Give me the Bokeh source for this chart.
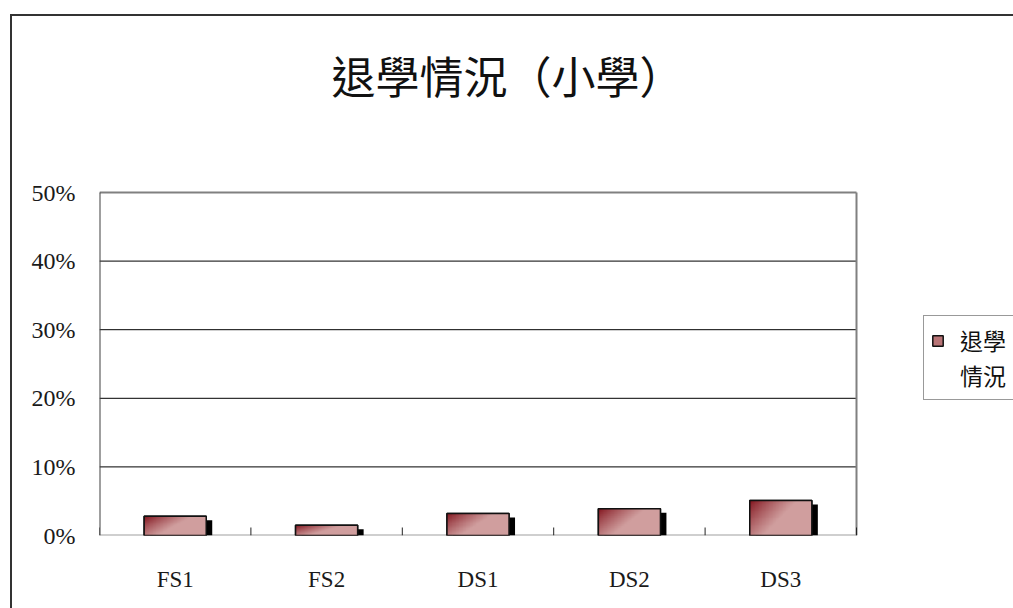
import numpy as np
from bokeh.plotting import figure
from bokeh.models import (FixedTicker, NumeralTickFormatter, Range1d, Legend, LegendItem, Label)
from bokeh.embed import file_html
from bokeh.resources import INLINE

# ---- data ----
categories = ["FS1", "FS2", "DS1", "DS2", "DS3"]
dropout_rate = [0.028, 0.015, 0.032, 0.039, 0.051]
y_ticks = [0.0, 0.1, 0.2, 0.3, 0.4, 0.5]
grid_values = [0.1, 0.2, 0.3, 0.4]
title_text = "退學情況（小學）"
legend_line1 = "退學"
legend_line2 = "情況"

W, H = 1013, 608
FL, FR, FT, FB = 99, 856, 192, 535   # plot-area edges in page pixels
YMAX = 0.5
NC = len(categories)

# the Bokeh frame spans from the plot-area's left/bottom to the canvas' right/top edge,
# so that the title and the legend (which live outside the plot area) are not clipped
x_end = NC * (W - FL) / (FR - FL)
y_end = YMAX * FB / (FB - FT)

p = figure(width=W, height=H, output_backend="svg", toolbar_location=None, title=None,
           x_range=Range1d(0, x_end), y_range=Range1d(0, y_end),
           min_border_left=FL, min_border_right=0, min_border_top=0, min_border_bottom=H - FB)
p.background_fill_color = None
p.border_fill_color = None
p.outline_line_color = None
# outer chart border (left and top edges visible, the rest lies outside the window)
p.styles = {
    "background-color": "white",
    "background-image": "linear-gradient(#333,#333), linear-gradient(#333,#333)",
    "background-position": "10px 14px, 10px 14px",
    "background-size": "2px 2000px, 2000px 2px",
    "background-repeat": "no-repeat",
}


def X(px):
    return (px - FL) / (FR - FL) * NC


def Y(py):
    return (FB - py) / (FB - FT) * YMAX


centers = [i + 0.5 for i in range(NC)]
bw = 0.41
px_x = NC / (FR - FL)
px_y = YMAX / (FB - FT)

# plot area: white fill, gridlines, border
p.quad(left=[0], right=[NC], bottom=[0], top=[YMAX], fill_color="white", line_color=None)
p.xgrid.grid_line_color = None
p.ygrid.grid_line_color = None
p.segment(x0=[0] * len(grid_values), x1=[NC] * len(grid_values), y0=grid_values, y1=grid_values,
          line_color="black", line_width=1)
p.segment(x0=[0, NC], x1=[NC, NC], y0=[YMAX, 0], y1=[YMAX, YMAX], line_color="#808080", line_width=2)
p.segment(x0=[0], x1=[NC], y0=[0], y1=[0], line_color="#a0a0a0", line_width=2)
p.segment(x0=[0], x1=[0], y0=[0], y1=[YMAX], line_color="#404040", line_width=2)

# shadows
p.vbar(x=[c + 6 * px_x for c in centers], top=[v - 4 * px_y for v in dropout_rate], bottom=0,
       width=bw, fill_color="black", line_color=None)

# bars: solid base (used by the legend), gradient image, outline
bars = p.vbar(x=centers, top=dropout_rate, bottom=0, width=bw,
              fill_color="#b87476", line_color="#111111", line_width=1.5)

nx, ny = 80, 40
u = np.linspace(0, 1, nx)[None, :]
wtop = np.linspace(1, 0, ny)[:, None]  # row 0 at bottom
t = np.clip((0.8 * u + 0.45 * wtop) / 0.62, 0, 1) ** 0.85
dark = np.array([128, 16, 26])
light = np.array([208, 158, 158])
rgb = dark[None, None, :] * (1 - t[..., None]) + light[None, None, :] * t[..., None]
img = np.empty((ny, nx), dtype=np.uint32)
view = img.view(dtype=np.uint8).reshape((ny, nx, 4))
view[..., 0] = rgb[..., 0].astype(np.uint8)
view[..., 1] = rgb[..., 1].astype(np.uint8)
view[..., 2] = rgb[..., 2].astype(np.uint8)
view[..., 3] = 255
p.image_rgba(image=[img] * NC, x=[c - bw / 2 for c in centers], y=[0] * NC,
             dw=[bw] * NC, dh=dropout_rate)
p.vbar(x=centers, top=dropout_rate, bottom=0, width=bw, fill_alpha=0, line_color="#111111", line_width=1.5)

# boundary ticks on x axis
p.ray(x=list(range(0, NC + 1)), y=[0] * (NC + 1), length=8,
      length_units="screen", angle=np.pi / 2, line_color="#222222", line_width=1)

# axes
xa = p.xaxis[0]
xa.ticker = FixedTicker(ticks=centers)
xa.major_label_overrides = {c: n for c, n in zip(centers, categories)}
xa.major_tick_line_color = None
xa.minor_tick_line_color = None
xa.axis_line_color = None
xa.major_label_text_font = "Liberation Serif"
xa.major_label_text_font_size = "23px"
xa.major_label_text_color = "#1a1a1a"
xa.major_label_standoff = 25

ya = p.yaxis[0]
ya.ticker = FixedTicker(ticks=y_ticks)
ya.formatter = NumeralTickFormatter(format="0%")
ya.major_tick_line_color = None
ya.minor_tick_line_color = None
ya.axis_line_color = None
ya.major_label_text_font = "Liberation Serif"
ya.major_label_text_font_size = "24px"
ya.major_label_text_color = "#1a1a1a"
ya.major_label_standoff = 18

# title
p.add_layout(Label(x=X(507), y=Y(74), text=title_text,
                   text_align="center", text_baseline="middle",
                   text_font="Noto Sans CJK TC", text_font_size="44px", text_color="#111111"))

# legend (two rows: the label wraps in the original; its right part lies outside the window)
blank = p.vbar(x=[], top=[], width=bw, fill_alpha=0, line_alpha=0)
legend = Legend(items=[LegendItem(label=legend_line1, renderers=[bars]),
                       LegendItem(label=legend_line2, renderers=[blank])],
                location=(923 - FL, FB - 400), margin=0, padding=7, spacing=1,
                glyph_width=13, glyph_height=13, label_height=26, label_standoff=16,
                label_width=60,
                label_text_font="Noto Sans CJK TC", label_text_font_size="23px",
                label_text_color="#111111", border_line_color="#333333", border_line_width=1,
                background_fill_color="white", background_fill_alpha=1)
p.add_layout(legend, "center")

open("out.html", "w").write(file_html(p, INLINE))
